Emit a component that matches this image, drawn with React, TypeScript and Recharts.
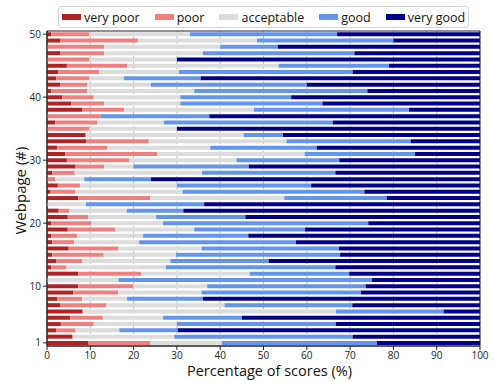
import { BarChart, Bar, XAxis, YAxis, CartesianGrid, Legend, ReferenceArea } from 'recharts';

// Webpage ids (category axis, drawn bottom-to-top)
const pages = [
  1, 2, 3, 4, 5, 6, 7, 8, 9, 10,
  11, 12, 13, 14, 15, 16, 17, 18, 19, 20,
  21, 22, 23, 24, 25, 26, 27, 28, 29, 30,
  31, 32, 33, 34, 35, 36, 37, 38, 39, 40,
  41, 42, 43, 44, 45, 46, 47, 48, 49, 50,
];

// Percentage of scores per webpage
const veryPoor = [
  9.6, 5.8, 2.2, 3.2, 5.4, 8.2, 3.0, 2.3, 6.1, 7.2,
  0, 7.2, 1.0, 2.2, 1.2, 5.0, 1.2, 1.0, 4.8, 1.0,
  4.8, 2.7, 0, 7.2, 0.8, 2.5, 0, 1.2, 6.6, 4.6,
  4.2, 2.3, 9.1, 8.9, 0, 1.9, 0, 8.2, 5.6, 3.5,
  1.0, 3.0, 2.1, 2.6, 4.6, 0, 3.0, 0, 3.0, 1.0,
];
const poor = [
  14.2, 0.2, 4.4, 7.6, 7.5, 0.2, 10.7, 5.8, 10.3, 12.8,
  0, 14.6, 3.5, 6.0, 11.9, 11.4, 5.1, 6.0, 11.0, 9.2,
  4.8, 2.5, 0, 16.6, 5.8, 5.2, 1.9, 5.2, 6.6, 14.4,
  21.3, 11.7, 14.4, 0.2, 9.8, 9.7, 12.4, 9.6, 7.6, 7.3,
  8.3, 6.3, 7.7, 9.4, 13.9, 9.8, 10.2, 13.2, 18.0, 8.8,
];
const acceptable = [
  16.6, 23.4, 10.1, 19.2, 13.9, 58.3, 27.3, 10.4, 19.3, 17.0,
  16.5, 25.0, 23.0, 20.3, 16.7, 19.3, 15.0, 15.2, 18.2, 16.6,
  15.6, 13.2, 9.0, 31.0, 24.7, 22.3, 6.7, 29.4, 6.8, 24.8,
  34.0, 23.7, 31.8, 36.3, 20.2, 15.4, 0, 30.0, 17.6, 20.0,
  24.7, 14.7, 8.0, 18.5, 35.0, 20.2, 22.8, 26.8, 27.5, 23.2,
];
const good = [
  35.8, 41.2, 13.5, 36.7, 18.2, 24.9, 29.5, 17.5, 36.8, 36.6,
  58.5, 23.0, 39.1, 22.7, 37.9, 31.7, 36.2, 24.3, 25.6, 47.4,
  20.6, 13.1, 27.3, 23.7, 42.0, 31.0, 15.4, 30.8, 26.6, 23.7,
  25.5, 24.6, 28.7, 9.1, 0, 39.0, 25.1, 35.8, 32.8, 25.6,
  40.0, 36.0, 17.7, 40.1, 25.5, 0, 35.0, 13.3, 31.5, 34.0,
];
const veryGood = [
  23.8, 29.4, 69.8, 33.3, 55.0, 8.4, 29.5, 64.0, 27.5, 26.4,
  25.0, 30.2, 33.4, 48.8, 32.3, 32.6, 42.5, 53.5, 40.4, 25.8,
  54.2, 68.5, 63.7, 21.5, 26.7, 39.0, 76.0, 33.4, 53.4, 32.5,
  15.0, 37.7, 16.0, 45.5, 70.0, 34.0, 62.5, 16.4, 36.4, 43.6,
  26.0, 40.0, 64.5, 29.4, 21.0, 70.0, 29.0, 46.7, 20.0, 33.0,
];

const xTicks = [0, 10, 20, 30, 40, 50, 60, 70, 80, 90, 100];
const yTicks = [1, 10, 20, 30, 40, 50];

const series = [
  { key: 'veryPoor', name: 'very poor', color: '#b22222' },
  { key: 'poor', name: 'poor', color: '#f08080' },
  { key: 'acceptable', name: 'acceptable', color: '#dcdcdc' },
  { key: 'good', name: 'good', color: '#6495ed' },
  { key: 'veryGood', name: 'very good', color: '#00008b' },
];

const chartData = pages.map((page, i) => ({
  page,
  veryPoor: veryPoor[i],
  poor: poor[i],
  acceptable: acceptable[i],
  good: good[i],
  veryGood: veryGood[i],
}));

const FONT = '"Open Sans", sans-serif';
const AXIS = '#222';

function renderLegend() {
  return (
    <div
      style={{
        display: 'flex',
        alignItems: 'center',
        gap: 15,
        height: 20,
        padding: '0 3px',
        border: '1px solid #d4d4d4',
        borderRadius: 3,
        background: '#fff',
        fontFamily: FONT,
        fontSize: 12.5,
        color: '#111',
        whiteSpace: 'nowrap',
      }}
    >
      {series.map(s => (
        <span key={s.key} style={{ display: 'flex', alignItems: 'center', gap: 3 }}>
          <span style={{ display: 'inline-block', width: 19, height: 6, background: s.color }} />
          {s.name}
        </span>
      ))}
    </div>
  );
}

function XLabel(props: any) {
  const { viewBox } = props;
  const cx = viewBox.x + viewBox.width / 2 + 6;
  return (
    <text x={cx} y={376} textAnchor="middle" fontFamily={FONT} fontSize={14.5} fill="#111">
      Percentage of scores (%)
    </text>
  );
}

function YLabel(props: any) {
  const { viewBox } = props;
  const cx = 20;
  const cy = viewBox.y + viewBox.height / 2 + 2;
  return (
    <text
      x={cx}
      y={cy}
      transform={`rotate(-90 ${cx} ${cy})`}
      textAnchor="middle"
      dominantBaseline="central"
      fontFamily={FONT}
      fontSize={15}
      fill="#111"
    >
      Webpage (#)
    </text>
  );
}

export default function App() {
  return (
    <div style={{ position: 'absolute', left: 0, top: 0, width: 494, height: 381, background: '#fff' }}>
      <BarChart
        width={494}
        height={381}
        data={chartData}
        layout="vertical"
        margin={{ top: 31, right: 14, bottom: 0, left: 7 }}
        barCategoryGap="20%"
      >
        <XAxis
          type="number"
          domain={[0, 100]}
          ticks={xTicks}
          interval={0}
          height={35}
          tickSize={4}
          stroke={AXIS}
          tick={{ fill: AXIS, fontSize: 10, fontFamily: FONT }}
          label={{ content: XLabel }}
        />
        <YAxis
          type="category"
          dataKey="page"
          reversed
          ticks={yTicks}
          interval={0}
          width={40}
          tickSize={4}
          stroke={AXIS}
          tick={{ fill: AXIS, fontSize: 10, fontFamily: FONT }}
          label={{ content: YLabel }}
        />
        {series.map(s => (
          <Bar
            key={s.key}
            dataKey={s.key}
            name={s.name}
            stackId="scores"
            fill={s.color}
            isAnimationActive={false}
          />
        ))}
        <CartesianGrid horizontal={false} stroke="#b0b0b0" strokeDasharray="3 2" strokeWidth={0.8} />
        <ReferenceArea x1={0} x2={100} fill="none" stroke={AXIS} strokeWidth={1} ifOverflow="visible" />
        <Legend
          layout="horizontal"
          verticalAlign="middle"
          align="center"
          content={renderLegend}
          wrapperStyle={{ top: 6, left: 58, width: 'auto', height: 'auto' }}
        />
      </BarChart>
    </div>
  );
}
